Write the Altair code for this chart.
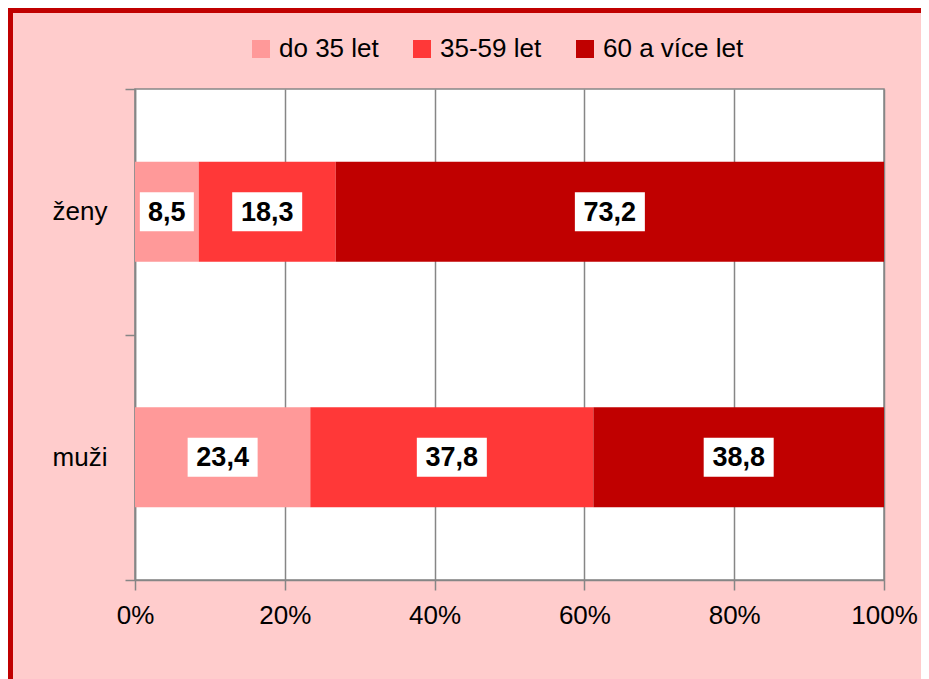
import altair as alt
import pandas as pd

groups = ["ženy", "muži"]
ages = ["do 35 let", "35-59 let", "60 a více let"]
zeny_values = [8.5, 18.3, 73.2]
muzi_values = [23.4, 37.8, 38.8]
x_ticks = [0, 20, 40, 60, 80, 100]
colors = ["#FF9999", "#FF3838", "#C00000"]

rows = []
for g, vals in zip(groups, [zeny_values, muzi_values]):
    for i, (a, v) in enumerate(zip(ages, vals)):
        rows.append({"pohlavi": g, "vek": a, "poradi": i, "hodnota": v,
                     "popisek": f"{v:.1f}".replace(".", ",")})
df = pd.DataFrame(rows)

PLOT_W, PLOT_H = 749, 491
FONT = "Liberation Sans"
GRAY = "#868686"

base = alt.Chart(df).transform_stack(
    stack="hodnota", groupby=["pohlavi"], as_=["x0", "x1"],
    sort=[alt.SortField("poradi", order="ascending")]
).transform_calculate(
    mid="(datum.x0 + datum.x1) / 2"
)

y_enc = alt.Y("pohlavi:N", sort=groups,
              scale=alt.Scale(paddingInner=0, paddingOuter=0),
              axis=alt.Axis(title=None, tickBand="extent", labelFontSize=26,
                            labelFont=FONT, labelColor="#000000", tickSize=10,
                            labelPadding=18, domainColor=GRAY, tickColor=GRAY,
                            domainWidth=1.5, tickWidth=1.5, grid=False))

bars = base.mark_bar(size=100).encode(
    x=alt.X("x0:Q", scale=alt.Scale(domain=[0, 100], nice=False),
            axis=alt.Axis(title=None, values=x_ticks, labelExpr="datum.value + '%'",
                          labelFontSize=26, labelFont=FONT, labelColor="#000000",
                          labelFlush=False, labelOverlap=False,
                          tickSize=10, labelPadding=12, domainColor=GRAY,
                          tickColor=GRAY, domainWidth=1.5, tickWidth=1.5,
                          grid=True, gridColor=GRAY, gridWidth=1.5)),
    x2="x1:Q",
    y=y_enc,
    color=alt.Color("vek:N", sort=ages,
                    scale=alt.Scale(domain=ages, range=colors),
                    legend=alt.Legend(title=None, orient="none", direction="horizontal",
                                      legendX=113, legendY=-53,
                                      symbolType="square", symbolSize=324,
                                      symbolStrokeWidth=0, labelFontSize=26,
                                      labelFont=FONT, labelColor="#000000",
                                      labelOffset=5, columnPadding=30)),
    order=alt.Order("poradi:Q"),
)

boxes = base.transform_calculate(
    half="(length(datum.popisek) == 3 ? 27 : 35) * 100 / " + str(PLOT_W),
    bx0="datum.mid - datum.half",
    bx1="datum.mid + datum.half",
).mark_bar(size=39, color="white").encode(
    x="bx0:Q", x2="bx1:Q", y=alt.Y("pohlavi:N", sort=groups)
)

labels = base.mark_text(font=FONT, fontSize=27, fontWeight="bold", color="#000000",
                        baseline="middle", align="center", dy=1).encode(
    x="mid:Q", y=alt.Y("pohlavi:N", sort=groups), text="popisek:N"
)

frame = pd.DataFrame({"a": [0]})
border_left = alt.Chart(frame).mark_rule(color="#C00000", strokeWidth=5).encode(
    x=alt.value(-124.5), y=alt.value(-81), y2=alt.value(PLOT_H + 99)
)
border_top = alt.Chart(frame).mark_rule(color="#C00000", strokeWidth=5).encode(
    x=alt.value(-127), x2=alt.value(PLOT_W + 37), y=alt.value(-78.5)
)

chart = alt.layer(bars, boxes, labels, border_left, border_top).properties(
    width=PLOT_W, height=PLOT_H, background="#FFCCCC",
    padding={"left": 127, "top": 81, "right": 37, "bottom": 99},
    autosize=alt.AutoSizeParams(type="none"),
).configure_view(fill="white", stroke=GRAY, strokeWidth=1.5)

chart.save("out.html", embed_options={"renderer": "svg", "actions": False})
